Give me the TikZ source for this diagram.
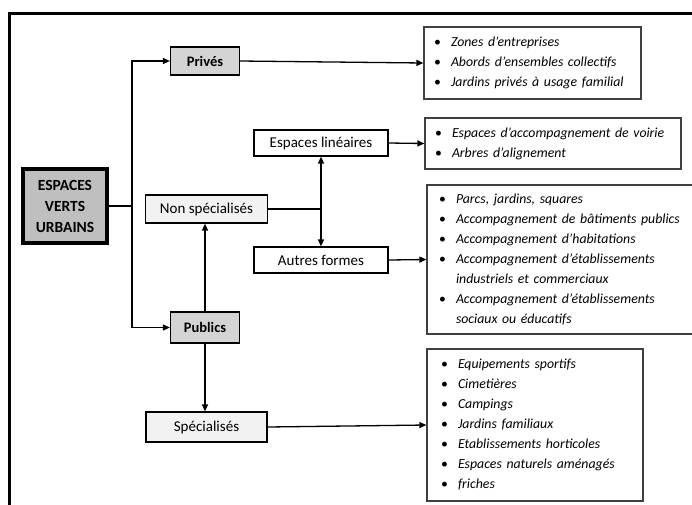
\documentclass[tikz,border=0pt]{standalone}
\usepackage{fontspec}
\setmainfont{Carlito}
\usetikzlibrary{arrows.meta}

\tikzset{
	boite/.style={rectangle,draw,line width=1.2pt,font=\fontsize{15}{17}\selectfont},
	grise/.style={boite,fill=black!17,font=\fontsize{14.5}{17}\selectfont\bfseries},
	claire/.style={boite,fill=black!5},
	liste/.style={rectangle,draw=black!75,line width=1.2pt,align=left,inner xsep=10pt,font=\fontsize{13.8}{20}\selectfont\itshape},
}
\def\puce{\makebox[17pt][l]{\upshape\textbullet}}
\def\suite{\hspace*{17pt}}

\def\racine{
	\path (65,206) node(EVU) [grise,line width=4pt,fill=black!25,minimum width=84pt,minimum height=74pt,align=center,font=\fontsize{15.5}{21}\selectfont\bfseries] {ESPACES\\VERTS\\URBAINS};
}
\def\categories{
	\path (205,61) node(Prives) [grise,minimum width=69pt,minimum height=28pt] {Privés}
			(205,327.5) node(Publics) [grise,minimum width=69pt,minimum height=31pt] {Publics}
			(206.5,209) node(NonSpec) [claire,minimum width=122pt,minimum height=28pt] {Non spécialisés}
			(206.5,427) node(Spec) [claire,minimum width=121pt,minimum height=30pt] {Spécialisés}
			(321,143) node(EspLin) [boite,minimum width=134pt,minimum height=26pt] {Espaces linéaires}
			(321,260) node(Autres) [boite,minimum width=134pt,minimum height=26pt] {Autres formes};
}
\def\listes{
	\path (532.5,63) node(ListePrives) [liste,text width=197pt,minimum height=72pt]
				{\puce Zones d’entreprises\\\puce Abords d’ensembles collectifs\\\puce Jardins privés à usage familial}
			(553,143.5) node(ListeLin) [liste,text width=236pt,minimum height=51pt]
				{\puce Espaces d’accompagnement de voirie\\\puce Arbres d’alignement}
			(560.5,259.5) node(ListeAutres) [liste,inner xsep=12pt,text width=243pt,minimum height=149pt]
				{\puce Parcs, jardins, squares\\\puce Accompagnement de bâtiments publics\\\puce Accompagnement d’habitations\\\puce Accompagnement d’établissements\\\suite industriels et commerciaux\\\puce Accompagnement d’établissements\\\suite sociaux ou éducatifs}
			(535,425) node(ListeSpec) [liste,inner xsep=14pt,text width=188pt,minimum height=152pt]
				{\puce Equipements sportifs\\\puce Cimetières\\\puce Campings\\\puce Jardins familiaux\\\puce Etablissements horticoles\\\puce Espaces naturels aménagés\\\puce friches};
}

\begin{document}
\begin{tikzpicture}[x=1pt,y=-1pt,line width=1.3pt,>={Triangle[length=7pt,width=6pt]}]
\useasboundingbox (0,0) rectangle (692,504);
\begin{scope}
	\clip (0,0) rectangle (692,504);
	\draw[line width=3pt] (9,13) rectangle (730,540);
\end{scope}
\racine
\categories
\listes
\coordinate (tronc) at (132,206);
\coordinate (noeud) at (321,209);
\draw (EVU.east) -- (tronc);
\draw[->] (tronc) |- (Prives.west);
\draw[->] (tronc) |- (Publics.west);
\draw[->] (Publics.north) -- (Publics.north |- NonSpec.south);
\draw[->] (Publics.south) -- (Publics.south |- Spec.north);
\draw (NonSpec.east) -- (noeud);
\draw[<->] (EspLin.south) -- (Autres.north);
\draw[->] (Prives.east) -- (ListePrives.west);
\draw[->] (EspLin.east) -- (ListeLin.west);
\draw[->] (Autres.east) -- (ListeAutres.west);
\draw[->] (Spec.east) -- (ListeSpec.west);
\end{tikzpicture}
\end{document}
